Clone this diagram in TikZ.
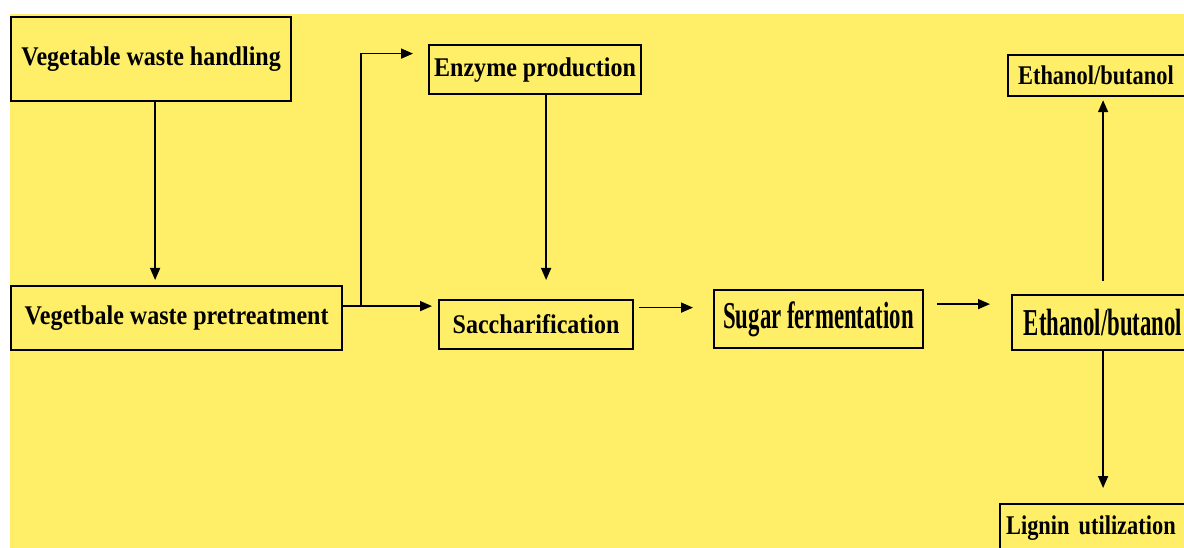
\documentclass[tikz,border=0pt]{standalone}
\usepackage{fontspec}
\usetikzlibrary{arrows.meta,calc}
\newfontfamily\boxfont[FakeStretch=0.89]{Liberation Serif}
\newfontfamily\edgefont[FakeStretch=0.83]{Liberation Serif}
\newfontfamily\bigfont[FakeStretch=0.6]{Liberation Serif}
\definecolor{sheet}{RGB}{255,239,104}

\begin{document}
\begin{tikzpicture}[x=1pt, y=-1pt,
  box/.style={draw, line width=2.2pt, anchor=north west, inner sep=0pt,
    font=\boxfont\bfseries\fontsize{27}{30}\selectfont},
  edgebox/.style={box, font=\edgefont\bfseries\fontsize{27}{30}\selectfont},
  bigbox/.style={box, font=\bigfont\bfseries\fontsize{38}{40}\selectfont},
  link/.style={line width=1.6pt, -{Triangle[length=12pt,width=10pt]}}]
\useasboundingbox (0,0) rectangle (1184,548);
\clip (0,0) rectangle (1184,548);
\fill[sheet] (10,14) rectangle (1184,548);

% left column
\node[box, minimum width=280pt, minimum height=84pt] (handling) at (10,16) {Vegetable waste handling};
\node[box, minimum width=331pt, minimum height=64pt] (pretreat) at (10,285) {Vegetbale waste pretreatment};

% middle
\node[box, minimum width=212pt, minimum height=49pt] (enzyme) at (428,44) {Enzyme production};
\node[box, minimum width=194pt, minimum height=49pt] (sacch) at (438,299) {Saccharification};
\node[bigbox, minimum width=209pt, minimum height=58pt] (sugar) at (713,289) {Sugar fermentation};

% right column
\node[edgebox, inner xsep=10pt, text width=170pt, align=left, minimum height=41pt] (ethsmall) at (1007,54) {Ethanol/butanol};
\node[bigbox, minimum width=182pt, minimum height=55pt] (ethbig) at (1011,294) {Ethanol/butanol};
\node[edgebox, inner xsep=6pt, inner ysep=12pt, text width=188pt, align=left] (lignin) at (999,503) {Lignin utilization};

% connectors
\coordinate (hdrop) at ($(handling.south)+(4,0)$);
\draw[link, shorten >=5pt] (hdrop) -- (hdrop |- pretreat.north);
\coordinate (out) at ($(pretreat.east)+(0,-12)$);
\coordinate (split) at ($(out)+(18,0)$);
\draw[link, shorten >=6pt] (out) -- (out -| sacch.west);
\draw[link, shorten >=15pt] (split) |- ($(enzyme.west)+(0,-16)$);
\coordinate (edrop) at ($(enzyme.south)+(11,0)$);
\draw[link, shorten >=19pt] (edrop) -- (edrop |- sacch.north);
\coordinate (s1) at ($(sacch.east)+(0,-17)$);
\draw[link, shorten <=5pt, shorten >=20pt] (s1) -- (s1 -| sugar.west);
\coordinate (s2) at ($(sugar.east)+(0,-15)$);
\draw[link, shorten <=13pt, shorten >=21pt] (s2) -- (s2 -| ethbig.west);
\draw[link, shorten <=13pt, shorten >=3pt] (ethbig.north) -- (ethbig.north |- ethsmall.south);
\draw[link, shorten >=15pt] (ethbig.south) -- (ethbig.south |- lignin.north);
\end{tikzpicture}
\end{document}
